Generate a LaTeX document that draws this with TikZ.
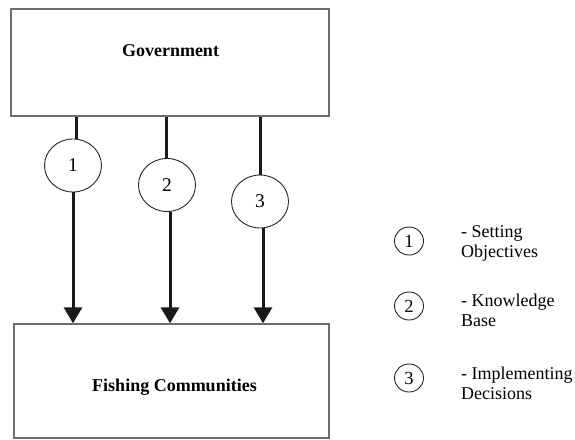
\documentclass[tikz,border=0pt]{standalone}
\usepackage{fontspec}
\setmainfont{Liberation Serif}
\usetikzlibrary{arrows.meta,shapes.geometric}
\definecolor{boxgray}{RGB}{110,110,110}
\begin{document}
\begin{tikzpicture}[x=1pt,y=-1pt,
  bigbox/.style={draw=boxgray,line width=1.3pt,rectangle,inner sep=0pt},
  bignum/.style={draw=black!85,line width=0.9pt,ellipse,minimum width=57pt,minimum height=53pt,inner sep=0pt,font=\fontsize{19.5}{21}\selectfont},
  smallnum/.style={draw=black!85,line width=0.9pt,ellipse,minimum width=29pt,minimum height=28pt,inner sep=0pt,font=\fontsize{18.5}{20}\selectfont},
  legtext/.style={anchor=west,align=left,inner sep=0pt,font=\fontsize{18}{20}\selectfont},
  link/.style={line width=3pt,black!90},
  arr/.style={link,-{Triangle[length=16pt,width=18pt]}}
]
\useasboundingbox (0,0) rectangle (575,439);
\fill[white] (0,0) rectangle (575,439);
\node[bigbox,minimum width=318pt,minimum height=107pt] (gov) at (170,62.5) {};
\node[font=\bfseries\fontsize{18}{20}\selectfont] (govt) at (170.5,51) {Government};
\node[bigbox,minimum width=315pt,minimum height=114pt] (fish) at (171.5,381) {};
\node[font=\bfseries\fontsize{18}{20}\selectfont] (fisht) at (174.5,387) {Fishing Communities};

\node[bignum] (c1) at (73,165.5) {1};
\node[bignum] (c2) at (167,185) {2};
\node[bignum] (c3) at (260,201.5) {3};

\draw[link] ([xshift=3pt]c1.north) -- ([xshift=3pt]c1.north |- gov.south);
\draw[link] ([xshift=-1pt]c2.north) -- ([xshift=-1pt]c2.north |- gov.south);
\draw[link] (c3.north) -- (c3.north |- gov.south);
\draw[arr] (c1.south) -- (c1.south |- fish.north);
\draw[arr] ([xshift=3pt]c2.south) -- ([xshift=3pt]c2.south |- fish.north);
\draw[arr] ([xshift=3pt]c3.south) -- ([xshift=3pt]c3.south |- fish.north);

\node[smallnum] (l1) at (409,241) {1};
\node[smallnum] (l2) at (409,306) {2};
\node[smallnum] (l3) at (409,378) {3};
\node[legtext] (t1) at (461,243) {- Setting\\Objectives};
\node[legtext] (t2) at (461,310) {- Knowledge\\Base};
\node[legtext] (t3) at (461,383) {- Implementing\\Decisions};
\end{tikzpicture}
\end{document}
